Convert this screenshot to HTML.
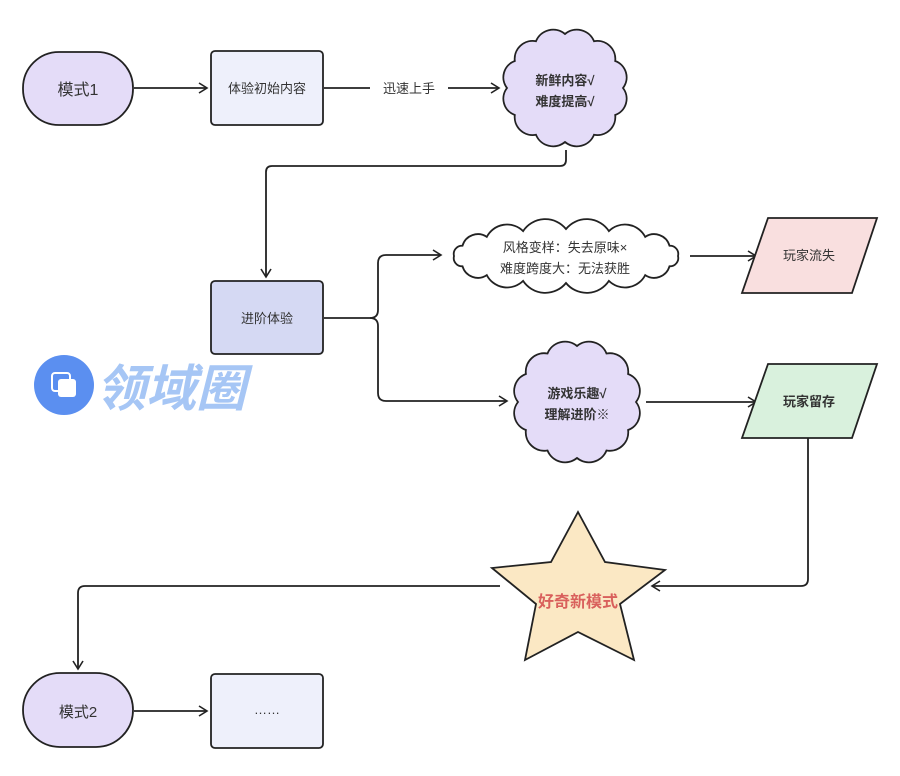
<!DOCTYPE html>
<html><head><meta charset="utf-8"><style>
body{margin:0;background:#fff;}
svg text{font-family:"Liberation Sans","Noto Sans CJK SC",sans-serif;}
</style></head><body>
<svg id="s" width="900" height="771" viewBox="0 0 900 771" xmlns="http://www.w3.org/2000/svg">
<defs><marker id="a" markerWidth="12" markerHeight="12" refX="10" refY="6" orient="auto" markerUnits="userSpaceOnUse"><path d="M2,1 L10,6 L2,11" fill="none" stroke="#222" stroke-width="1.6"/></marker></defs>
<g fill="none" stroke="#222" stroke-width="1.8">
<line x1="134" y1="88" x2="207" y2="88" marker-end="url(#a)"/>
<line x1="324" y1="88" x2="370" y2="88"/>
<line x1="448" y1="88" x2="499" y2="88" marker-end="url(#a)"/>
<path d="M566,150 V160 Q566,166 560,166 H272 Q266,166 266,172 V277" marker-end="url(#a)"/>
<path d="M324,318 H370 Q378,318 378,310 V263 Q378,255 386,255 H441" marker-end="url(#a)"/>
<path d="M370,318 Q378,318 378,326 V393 Q378,401 386,401 H507" marker-end="url(#a)"/>
<line x1="690" y1="256" x2="756" y2="256" marker-end="url(#a)"/>
<line x1="646" y1="402" x2="756" y2="402" marker-end="url(#a)"/>
<path d="M808,438 V579 Q808,586 801,586 H652" marker-end="url(#a)"/>
<path d="M500,586 H85 Q78,586 78,593 V669" marker-end="url(#a)"/>
<line x1="134" y1="711" x2="207" y2="711" marker-end="url(#a)"/>
</g>
<g stroke="#222" stroke-width="1.8">
<rect x="23" y="52" width="110" height="73" rx="36" fill="#e4dcf8"/>
<rect x="211" y="51" width="112" height="74" rx="4" fill="#eef0fb"/>
<rect x="211" y="281" width="112" height="73" rx="4" fill="#d5d9f3"/>
<polygon points="768,218 877,218 852,293 742,293" fill="#f9dfdf"/>
<polygon points="768,364 877,364 852,438 742,438" fill="#d9f1dd"/>
<polygon points="578,512 605,562 665,570 620,604 634,660 578,632 525,660 536,604 492,568 551,562" fill="#fbe8c4"/>
<rect x="23" y="673" width="110" height="74" rx="37" fill="#e4dcf8"/>
<rect x="211" y="674" width="112" height="74" rx="4" fill="#eef0fb"/>
<path id="c1" fill="#e4dcf8"/>
<path id="c2" fill="#fff"/>
<path id="c3" fill="#e4dcf8"/>
</g>
<g font-size="13" fill="#333" text-anchor="middle">
<text x="78" y="95" font-size="16">模式1</text>
<text x="267" y="93">体验初始内容</text>
<text x="409" y="93">迅速上手</text>
<text x="565" y="85" font-weight="bold">新鲜内容√</text>
<text x="565" y="106" font-weight="bold">难度提高√</text>
<text x="267" y="323">进阶体验</text>
<text x="565" y="252">风格变样：失去原味×</text>
<text x="565" y="273">难度跨度大：无法获胜</text>
<text x="809" y="260">玩家流失</text>
<text x="577" y="398" font-weight="bold">游戏乐趣√</text>
<text x="577" y="419" font-weight="bold">理解进阶※</text>
<text x="809" y="406" font-weight="bold">玩家留存</text>
<text x="578" y="607" font-size="16" font-weight="bold" fill="#d9605c">好奇新模式</text>
<text x="78" y="717" font-size="15">模式2</text>
<text x="267" y="714">……</text>
</g>
<g>
<circle cx="64" cy="385" r="30" fill="#5b8ff0"/>
<rect x="52" y="373" width="18" height="18" rx="3" fill="none" stroke="#fff" stroke-width="2"/>
<rect x="58" y="379" width="18" height="18" rx="3" fill="#fff"/>
<text x="96" y="406" font-size="50" font-weight="bold" font-style="italic" fill="#a6c6f5">领域圈</text>
</g>
</svg>
<script>
function cloud(id,cx,cy,rx,ry,n){var d="",pts=[];for(var i=0;i<n;i++){var t=2*Math.PI*i/n;pts.push([cx+rx*Math.cos(t),cy+ry*Math.sin(t)]);}
for(var i=0;i<n;i++){var p=pts[i],q=pts[(i+1)%n];var ch=Math.hypot(q[0]-p[0],q[1]-p[1]);var r=ch*0.62;
if(i==0)d+="M"+p[0].toFixed(1)+","+p[1].toFixed(1);d+=" A"+r.toFixed(1)+","+r.toFixed(1)+" 0 0 1 "+q[0].toFixed(1)+","+q[1].toFixed(1);}
document.getElementById(id).setAttribute("d",d+"Z");}
cloud("c1",565,88,58,54,12);
cloud("c2",566,256,112,27,16);
cloud("c3",577,402,59,56,12);
</script>
</body></html>
